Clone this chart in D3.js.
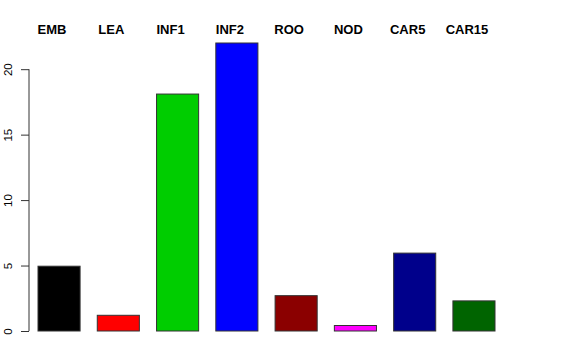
<!DOCTYPE html>
<html>
<head>
<meta charset="utf-8">
<script src="https://cdn.jsdelivr.net/npm/d3@7"></script>
<style>
  body { margin: 0; background: #fff; }
  svg { display: block; font-family: 'Liberation Sans', Arial, sans-serif; }
</style>
</head>
<body>
<div class="chart"></div>
<script>
const categories = ['EMB', 'LEA', 'INF1', 'INF2', 'ROO', 'NOD', 'CAR5', 'CAR15']
const values = [4.95, 1.2, 18.1, 22, 2.7, 0.42, 5.95, 2.3]
const colors = ['#000000', '#ff0000', '#00cd00', '#0000ff', '#8b0000', '#ff00ff', '#00008b', '#006400']
const yTicks = [0, 5, 10, 15, 20]

const width = 576
const height = 360

const svg = d3
    .select('.chart')
    .append('svg')
    .attr('width', width)
    .attr('height', height)

const x = d3
    .scaleBand()
    .domain(categories)
    .range([38, 495])
    .paddingInner(0.29)
    .paddingOuter(0)

const y = d3
    .scaleLinear()
    .domain([0, 22])
    .range([331, 43])

// Bars
svg
    .append('g')
    .selectAll('rect')
    .data(d3.zip(categories, values, colors))
    .join('rect')
    .attr('x', d => x(d[0]))
    .attr('y', d => y(d[1]))
    .attr('width', x.bandwidth())
    .attr('height', d => y(0) - y(d[1]))
    .attr('fill', d => d[2])
    .attr('stroke', '#333')
    .attr('stroke-width', 1)

// Category labels along the top
svg
    .append('g')
    .attr('font-size', 13)
    .attr('font-weight', 'bold')
    .attr('text-anchor', 'middle')
    .selectAll('text')
    .data(categories)
    .join('text')
    .attr('x', d => x(d) + x.bandwidth() / 2 - 7)
    .attr('y', 34)
    .text(d => d)

// Y axis, R style
const axis = svg.append('g').attr('transform', 'translate(29,0)')
axis
    .call(d3.axisLeft(y).tickValues(yTicks).tickSize(8).tickSizeOuter(0))
    .call(g => g.select('.domain').attr('d', `M0,${y(0)}V${y(20)}`).attr('stroke', '#333'))
    .call(g => g.selectAll('.tick line').attr('stroke', '#333'))
    .call(g => g.selectAll('.tick text')
        .attr('font-size', 11.5)
        .attr('font-family', "'Liberation Sans', Arial, sans-serif")
        .attr('fill', '#000')
        .attr('x', null)
        .attr('dy', null)
        .attr('text-anchor', 'middle')
        .attr('transform', 'translate(-17,0) rotate(-90)'))
</script>
</body>
</html>
